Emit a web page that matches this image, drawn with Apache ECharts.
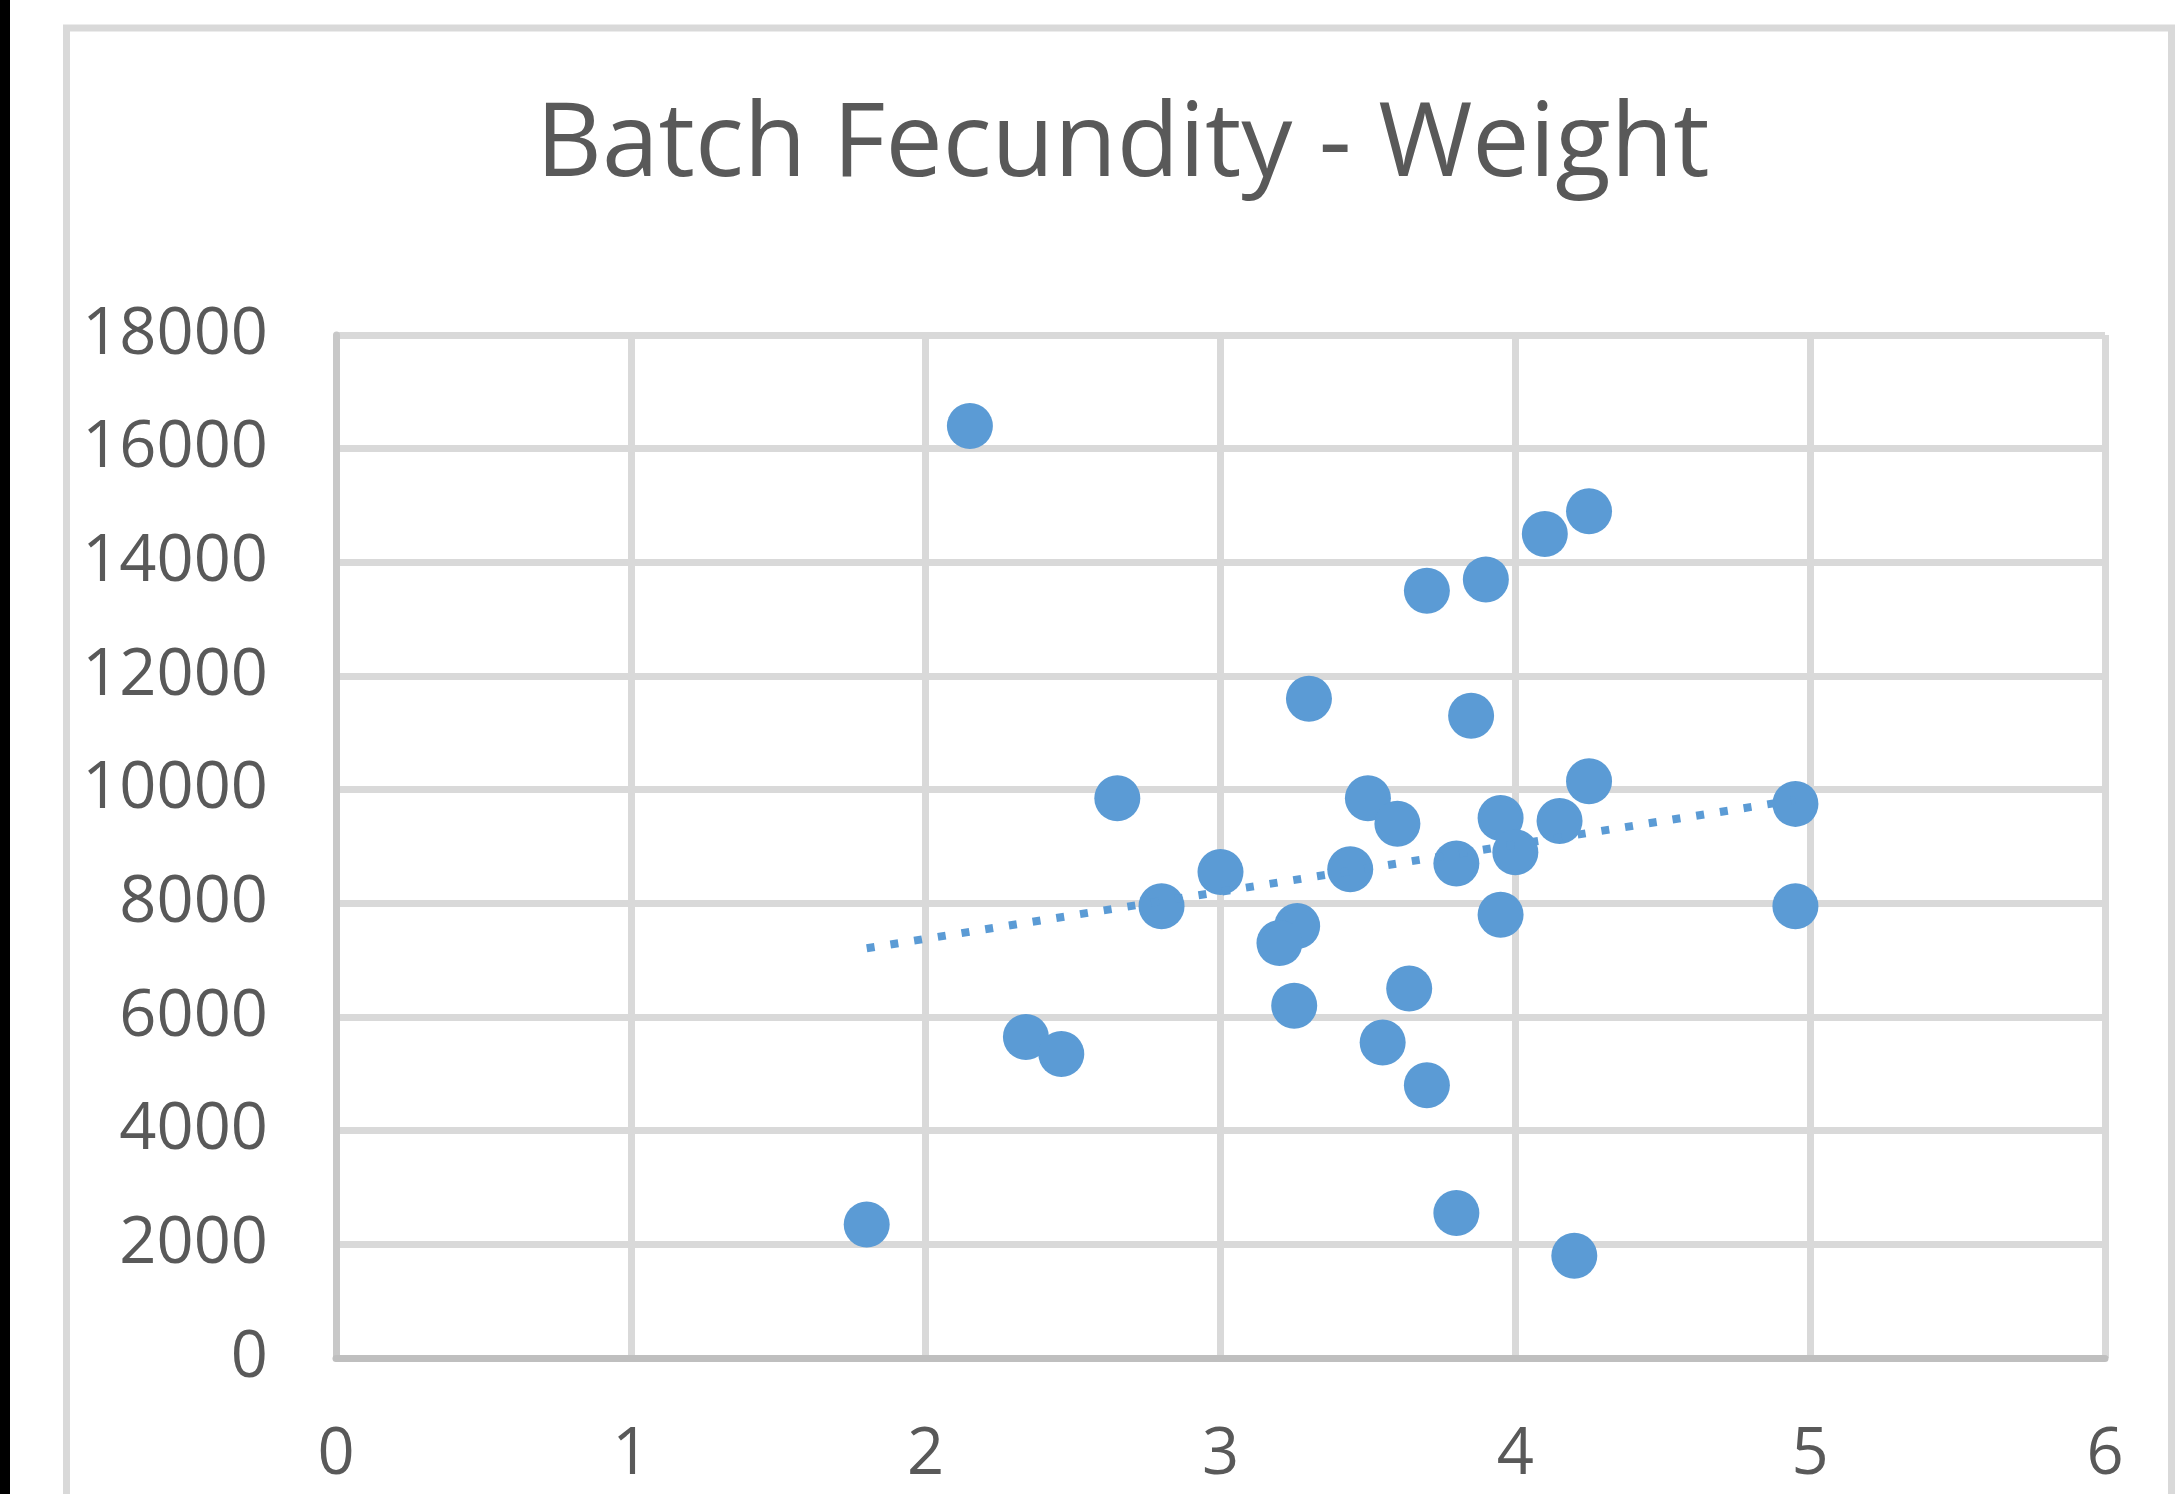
<!DOCTYPE html>
<html>
<head>
<meta charset="utf-8">
<script src="https://cdn.jsdelivr.net/npm/echarts@6/dist/echarts.min.js"></script>
<style>
  html, body { margin: 0; padding: 0; background: #fff; }
  #chart { width: 2175px; height: 1494px; }
</style>
</head>
<body>
<div id="chart"></div>
<script>
// weight (x) and batch fecundity (y)
const weight = [2.15, 4.25, 4.1, 3.9, 3.7, 3.3, 3.85, 4.25, 2.65, 3.5, 3.6, 4.95, 3.95, 4.15, 4.0, 3.0,
  3.44, 3.8, 2.8, 4.95, 3.95, 3.26, 3.2, 3.64, 3.25, 2.34, 2.46, 3.55, 3.7, 1.8, 3.8, 4.2]
const fecundity = [16400, 14900, 14500, 13700, 13500, 11600, 11300, 10150, 9850, 9850, 9400, 9750, 9500, 9450, 8900, 8550,
  8600, 8700, 7950, 7950, 7800, 7600, 7300, 6500, 6200, 5650, 5350, 5550, 4800, 2350, 2550, 1800]

// linear trendline end points
const trendX = [1.8, 4.95]
const trendY = [7210, 9820]

const xTicks = [0, 6, 1]      // min, max, interval
const yTicks = [0, 18000, 2000]

const chart = echarts.init(document.getElementById('chart'))

const option = {
  animation: false,
  backgroundColor: '#fff',
  textStyle: { fontFamily: 'Open Sans' },
  graphic: [
    // black strip at the left edge
    { type: 'rect', left: 0, top: 0, shape: { width: 10, height: 1494 }, style: { fill: '#000' }, z: 100 },
    // chart area border
    {
      type: 'rect', z: -1,
      shape: { x: 66.5, y: 28, width: 2105, height: 2000 },
      style: { fill: null, stroke: '#D9D9D9', lineWidth: 7 }
    }
  ],
  title: {
    text: 'Batch Fecundity - Weight',
    left: 531,
    top: 91,
    textStyle: { fontFamily: 'Open Sans', fontSize: 102, fontWeight: 'normal', color: '#595959' }
  },
  grid: { left: 336, right: 70, top: 335, bottom: 136, containLabel: false },
  xAxis: {
    type: 'value',
    min: xTicks[0], max: xTicks[1], interval: xTicks[2],
    axisLine: { show: true, onZero: false, lineStyle: { color: '#BFBFBF', width: 7 } },
    axisTick: { show: false },
    axisLabel: { margin: 65, fontSize: 65, color: '#595959', fontFamily: 'Open Sans' },
    splitLine: { show: true, lineStyle: { color: '#D9D9D9', width: 7 } }
  },
  yAxis: {
    type: 'value',
    min: yTicks[0], max: yTicks[1], interval: yTicks[2],
    axisLine: { show: true, onZero: false, lineStyle: { color: '#C8C8C8', width: 7 } },
    axisTick: { show: false },
    axisLabel: { margin: 68, fontSize: 65, color: '#595959', fontFamily: 'Open Sans', formatter: v => String(v) },
    splitLine: { show: true, lineStyle: { color: '#D9D9D9', width: 7 } }
  },
  series: [
    {
      type: 'scatter',
      data: weight.map((w, i) => [w, fecundity[i]]),
      symbol: 'circle',
      symbolSize: 46,
      itemStyle: { color: '#5B9BD5', opacity: 1 },
      z: 2
    },
    {
      type: 'line',
      data: trendX.map((x, i) => [x, trendY[i]]),
      showSymbol: false,
      lineStyle: { color: '#5B9BD5', width: 8, type: [8, 16], cap: 'butt' },
      z: 3
    }
  ]
}

chart.setOption(option)
</script>
</body>
</html>
